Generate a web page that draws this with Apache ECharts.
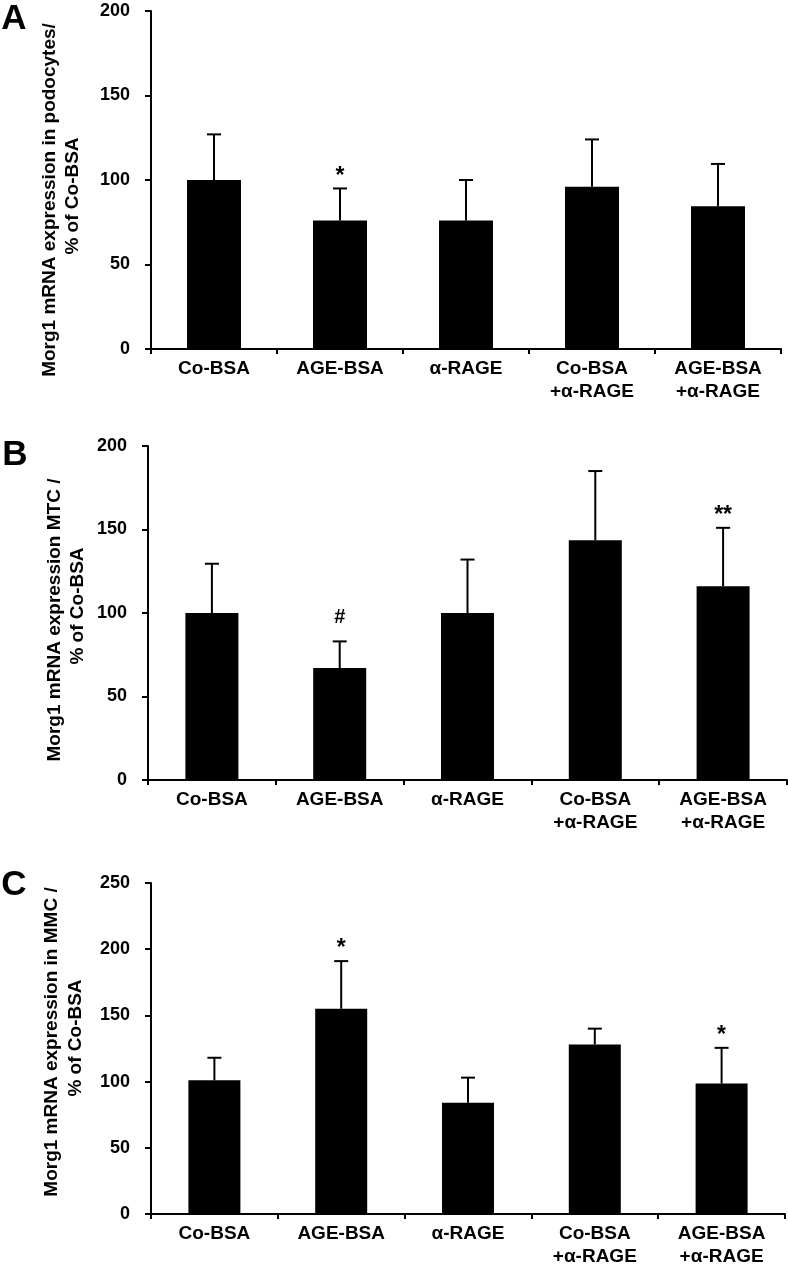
<!DOCTYPE html>
<html>
<head>
<meta charset="utf-8">
<script src="https://cdn.jsdelivr.net/npm/echarts@6/dist/echarts.min.js"></script>
<style>
html,body{margin:0;padding:0;background:#fff;}
#chart{width:788px;height:1268px;}
</style>
</head>
<body>
<div id="chart"></div>
<script>
// ---- data ----
var categories = ['Co-BSA', 'AGE-BSA', 'α-RAGE', 'Co-BSA\n+α-RAGE', 'AGE-BSA\n+α-RAGE'];

var meanA = [100, 76, 76, 96, 84.5];
var sdA   = [27, 19, 24, 28, 25];
var sigA  = ['', '*', '', '', ''];

var meanB = [100, 67, 100, 143.5, 116];
var sdB   = [29.5, 16, 32, 41.5, 35];
var sigB  = ['', '#', '', '', '**'];

var meanC = [101, 155, 84, 128, 98.5];
var sdC   = [17, 36, 19, 12, 27];
var sigC  = ['', '*', '', '', '*'];

var titleA = ['Morg1 mRNA expression in podocytes/', '% of Co-BSA'];
var titleB = ['Morg1 mRNA expression MTC /', '% of Co-BSA'];
var titleC = ['Morg1 mRNA expression in MMC /', '% of Co-BSA'];
var yMaxA = 200, yMaxB = 200, yMaxC = 250, yStep = 50;

// ---- chart ----
var FONT = "'Liberation Sans', Arial, sans-serif";
var chart = echarts.init(document.getElementById('chart'), null, {renderer: 'canvas'});

var grids = [
  {left: 151, top: 11, width: 630, height: 338},
  {left: 148, top: 446, width: 639, height: 334},
  {left: 151, top: 883, width: 634, height: 335}
];

function xAxisDef(i) {
  return {
    type: 'category', gridIndex: i, data: categories,
    axisLine: {lineStyle: {color: '#000', width: 2}},
    axisTick: {show: true, length: 5, lineStyle: {color: '#000', width: 2}},
    axisLabel: {color: '#000', fontFamily: FONT, fontWeight: 'bold', fontSize: 19, lineHeight: 23, margin: 8, interval: 0}
  };
}
function yAxisDef(i, max) {
  return {
    type: 'value', gridIndex: i, min: 0, max: max, interval: yStep,
    axisLine: {show: true, lineStyle: {color: '#000', width: 2}},
    axisTick: {show: true, length: 6, lineStyle: {color: '#000', width: 2}},
    splitLine: {show: false},
    axisLabel: {color: '#000', fontFamily: FONT, fontWeight: 'bold', fontSize: 18, margin: 21}
  };
}

function barSeries(i, means, w) {
  return {
    type: 'bar', xAxisIndex: i, yAxisIndex: i, data: means, barWidth: w,
    itemStyle: {color: '#000'}, silent: true
  };
}

function errSeries(i, means, sds, sigs) {
  var d = means.map(function (m, k) { return [k, m, m + sds[k]]; });
  return {
    type: 'custom', xAxisIndex: i, yAxisIndex: i, data: d, silent: true, z: 5,
    renderItem: function (params, api) {
      var c = api.value(0);
      var p0 = api.coord([c, api.value(1)]);
      var p1 = api.coord([c, api.value(2)]);
      var half = 7;
      var children = [
        {type: 'line', shape: {x1: p0[0], y1: p0[1], x2: p1[0], y2: p1[1]}, style: {stroke: '#000', lineWidth: 2}},
        {type: 'line', shape: {x1: p1[0] - half, y1: p1[1], x2: p1[0] + half, y2: p1[1]}, style: {stroke: '#000', lineWidth: 2}}
      ];
      var s = sigs[params.dataIndex];
      if (s) {
        var isHash = s === '#';
        children.push({
          type: 'text',
          style: {
            text: s, x: p1[0], y: p1[1] - (isHash ? 24 : 12),
            fill: '#000', font: 'bold ' + (isHash ? 20 : 23) + 'px ' + FONT,
            textAlign: 'center', textVerticalAlign: 'middle'
          }
        });
      }
      return {type: 'group', children: children};
    }
  };
}

function titleGraphic(lines, x1, y1, x2, y2) {
  return [
    {type: 'text', x: x1, y: y1, rotation: Math.PI / 2,
      style: {text: lines[0], fill: '#000', font: 'bold 19px ' + FONT, textAlign: 'center', textVerticalAlign: 'middle'}},
    {type: 'text', x: x2, y: y2, rotation: Math.PI / 2,
      style: {text: lines[1], fill: '#000', font: 'bold 19px ' + FONT, textAlign: 'center', textVerticalAlign: 'middle'}}
  ];
}
function letter(t, x, y) {
  return {type: 'text', x: x, y: y,
    style: {text: t, fill: '#000', font: 'bold 35px ' + FONT, textAlign: 'center', textVerticalAlign: 'middle'}};
}

var graphics = []
  .concat(titleGraphic(titleA, 50, 200, 73, 196))
  .concat(titleGraphic(titleB, 55, 620, 78, 606))
  .concat(titleGraphic(titleC, 52, 1042, 76, 1038))
  .concat([letter('A', 14, 19), letter('B', 15, 455), letter('C', 14, 885)]);

chart.setOption({
  animation: false,
  backgroundColor: '#fff',
  grid: grids,
  xAxis: [xAxisDef(0), xAxisDef(1), xAxisDef(2)],
  yAxis: [yAxisDef(0, yMaxA), yAxisDef(1, yMaxB), yAxisDef(2, yMaxC)],
  series: [
    barSeries(0, meanA, 54), errSeries(0, meanA, sdA, sigA),
    barSeries(1, meanB, 53), errSeries(1, meanB, sdB, sigB),
    barSeries(2, meanC, 52), errSeries(2, meanC, sdC, sigC)
  ],
  graphic: graphics
});
</script>
</body>
</html>
